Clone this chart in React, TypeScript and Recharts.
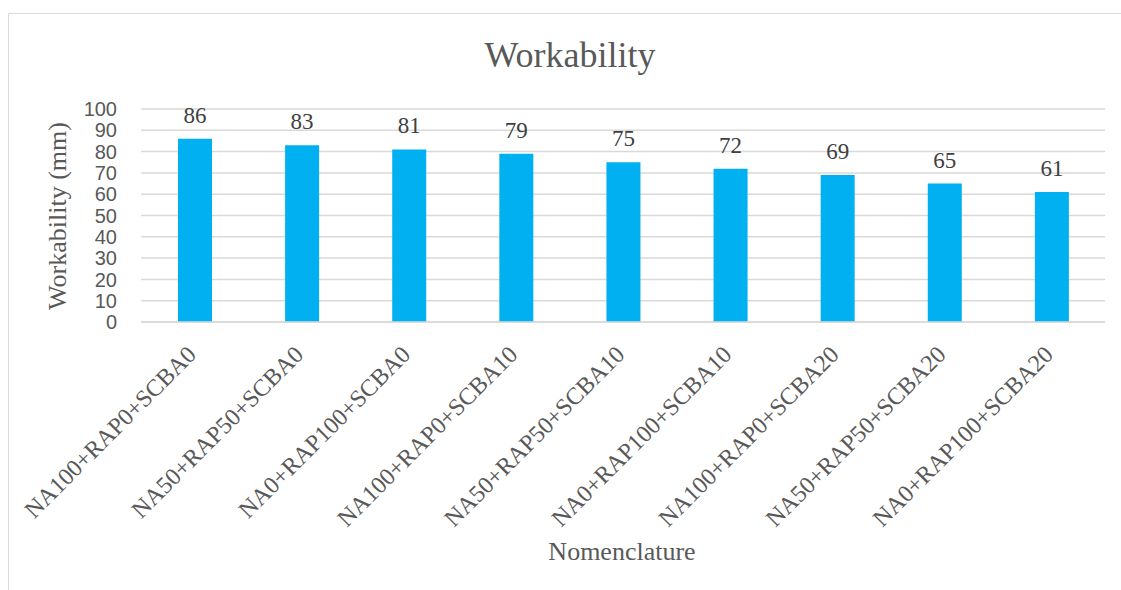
import React from "react";
import { BarChart, Bar, XAxis, YAxis, CartesianGrid, LabelList } from "recharts";

const categories = [
  "NA100+RAP0+SCBA0",
  "NA50+RAP50+SCBA0",
  "NA0+RAP100+SCBA0",
  "NA100+RAP0+SCBA10",
  "NA50+RAP50+SCBA10",
  "NA0+RAP100+SCBA10",
  "NA100+RAP0+SCBA20",
  "NA50+RAP50+SCBA20",
  "NA0+RAP100+SCBA20",
];
const workability = [86, 83, 81, 79, 75, 72, 69, 65, 61];
const yTicks = [0, 10, 20, 30, 40, 50, 60, 70, 80, 90, 100];

const data = categories.map((name, i) => ({ name, value: workability[i] }));

const SERIF = '"Liberation Serif", "DejaVu Serif", serif';
const SANS = '"Liberation Sans", Arial, sans-serif';

const XTick = (props: any) => {
  const { x, y, payload } = props;
  const ax = x + 3;
  const ay = y + 34;
  return (
    <text
      x={ax}
      y={ay}
      textAnchor="end"
      transform={`rotate(-45, ${ax}, ${ay})`}
      style={{ fontFamily: SERIF, fontSize: 24 }}
      fill="#595959"
    >
      {payload.value}
    </text>
  );
};

export default function App() {
  return (
    <div style={{ position: "relative", width: 1121, height: 590, overflow: "hidden" }}>
      <style>{`html,body{margin:0;padding:0;overflow:hidden;}`}</style>
      <svg
        width={1121}
        height={590}
        style={{ position: "absolute", left: 0, top: 0, pointerEvents: "none" }}
      >
        <line x1={8.5} y1={13.5} x2={1121} y2={13.5} stroke="#d9d9d9" strokeWidth={1} />
        <line x1={8.5} y1={13.5} x2={8.5} y2={590} stroke="#d9d9d9" strokeWidth={1} />
        <text x={570} y={67} textAnchor="middle" style={{ fontFamily: SERIF, fontSize: 36 }} fill="#595959">
          Workability
        </text>
        <text x={622} y={560} textAnchor="middle" style={{ fontFamily: SERIF, fontSize: 26 }} fill="#595959">
          Nomenclature
        </text>
        <text
          x={66}
          y={216}
          textAnchor="middle"
          transform="rotate(-90, 66, 216)"
          style={{ fontFamily: SERIF, fontSize: 26 }}
          fill="#595959"
        >
          Workability (mm)
        </text>
      </svg>
      <div style={{ position: "absolute", left: 8, top: 8 }}>
        <BarChart
          width={1113}
          height={574}
          data={data}
          margin={{ top: 101, right: 16, left: 0, bottom: 60 }}
        >
          <CartesianGrid vertical={false} stroke="#d9d9d9" strokeWidth={1.5} />
          <XAxis
            dataKey="name"
            interval={0}
            height={200}
            tickLine={false}
            tickSize={0}
            tickMargin={0}
            axisLine={{ stroke: "#d9d9d9", strokeWidth: 1.5 }}
            tick={<XTick />}
          />
          <YAxis
            width={133}
            domain={[0, 100]}
            ticks={yTicks}
            interval={0}
            axisLine={false}
            tickLine={false}
            tickSize={0}
            tickMargin={24}
            tick={{ style: { fontFamily: SANS }, fontSize: 20, fill: "#595959" }}
          />
          <Bar dataKey="value" fill="#00B0F0" barSize={34} isAnimationActive={false}>
            <LabelList
              dataKey="value"
              position="top"
              offset={16}
              style={{ fontFamily: SERIF }}
              fontSize={23}
              fill="#404040"
            />
          </Bar>
        </BarChart>
      </div>
    </div>
  );
}
